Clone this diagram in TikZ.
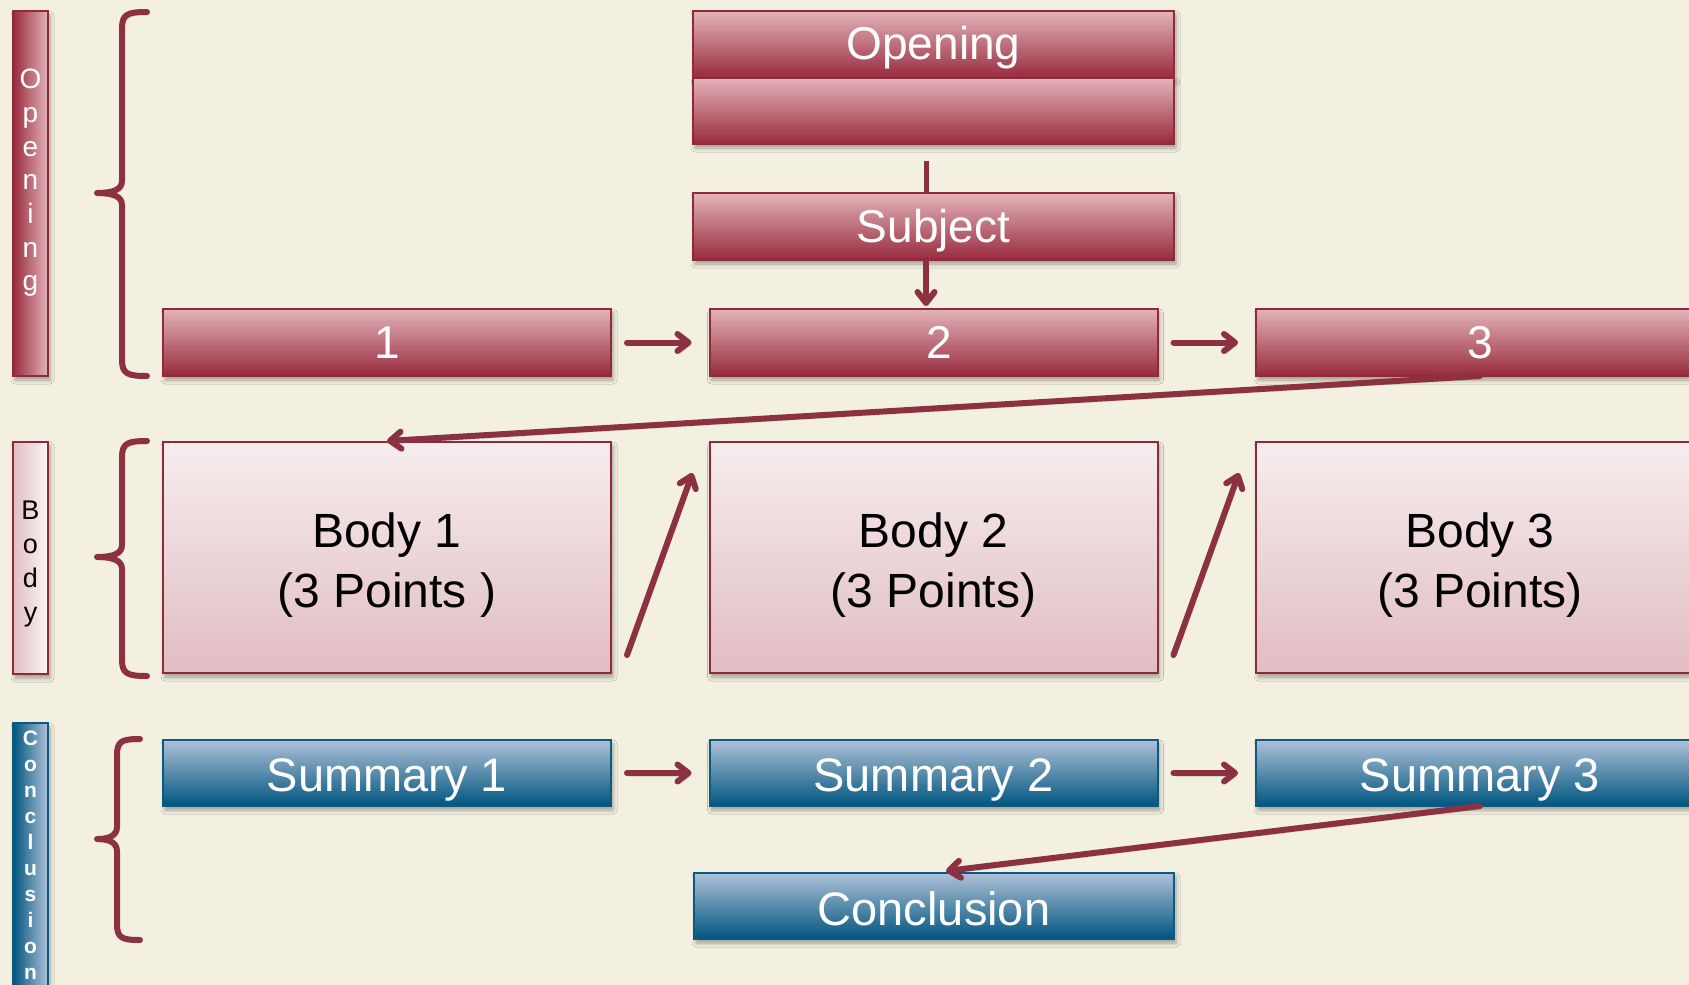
\documentclass[tikz,border=0pt]{standalone}
\usepackage{fontspec}
\setmainfont{Liberation Sans}
\usetikzlibrary{arrows.meta,shadows.blur,calc}
\definecolor{bg}{HTML}{F3F0E2}
\definecolor{redL}{HTML}{E3B3B9}
\definecolor{redD}{HTML}{982A3D}
\definecolor{redB}{HTML}{8E2A3C}
\definecolor{arrc}{HTML}{8B3142}
\definecolor{pinkT}{HTML}{F6EDEE}
\definecolor{pinkB}{HTML}{E1BDC2}
\definecolor{blueT}{HTML}{AEC1D8}
\definecolor{blueD}{HTML}{00557F}
\definecolor{blueB}{HTML}{0B5A80}
\begin{document}
\begin{tikzpicture}[x=1pt,y=-1pt,
  shad/.style={blur shadow={shadow xshift=2pt,shadow yshift=-4pt,shadow blur radius=4pt,shadow opacity=35}},
  basebox/.style={line width=2pt,inner sep=0pt,outer sep=0pt,shad},
  redbox/.style={basebox,draw=redB,top color=redL,bottom color=redD,text=white,font=\fontsize{46}{50}\selectfont},
  bodybox/.style={basebox,draw=redB,top color=pinkT,bottom color=pinkB,minimum width=448pt,minimum height=231pt},
  bodytext/.style={align=center,text=black,font=\fontsize{48}{60}\selectfont},
  bluebox/.style={basebox,draw=blueB,top color=blueT,bottom color=blueD},
  bluetext/.style={text=white,font=\fontsize{47}{50}\selectfont},
  rowbox/.style={minimum width=448pt,minimum height=67pt},
  sumbox/.style={minimum width=448pt,minimum height=66pt},
  vbar/.style={basebox,minimum width=35pt},
  vtext/.style={align=center,inner sep=0pt},
  arr/.style={draw=arrc,line width=6pt,line cap=round,-{Straight Barb[length=11pt,width=17pt,round]},
    preaction={draw=black,opacity=0.12,transform canvas={shift={(2pt,-3pt)}}}},
  conn/.style={draw=arrc,line width=5pt},
  brace/.style={draw=arrc,line width=6pt,line cap=round,line join=round,
    preaction={draw=black,opacity=0.12,transform canvas={shift={(2pt,-3pt)}}}}
]
\fill[bg] (0,0) rectangle (1689,985);
\useasboundingbox (0,0) rectangle (1689,985);
\clip (0,0) rectangle (1689,985);

% side bars
\node[vbar,draw=redB,left color=redD,right color=redL,minimum height=365pt] (barO) at (30.5,193.5) {};
\node[vtext,text=white,font=\fontsize{28}{33.7}\selectfont] (txtO) at (30.5,183) {O\\p\\e\\n\\i\\n\\g};
\node[vbar,draw=redB,left color=pinkB,right color=pinkT!60!white,minimum height=232pt] (barB) at (30.5,558) {};
\node[vtext,text=black,font=\fontsize{27}{34}\selectfont] (txtB) at (30.5,564) {B\\o\\d\\y};
\node[vbar,draw=blueB,left color=blueD,right color=blueT,minimum height=287pt] (barC) at (30.5,866.5) {};
\node[vtext,text=white,font=\fontsize{21}{26}\selectfont\bfseries] (txtC) at (30.5,855) {C\\o\\n\\c\\l\\u\\s\\i\\o\\n};

% braces
\draw[brace] (147,12) .. controls (128,12) and (122,14) .. (122,28) -- (122,181) .. controls (122,190) and (112,193) .. (97,193) .. controls (112,193) and (122,196) .. (122,205) -- (122,360) .. controls (122,374) and (128,376) .. (147,376);
\draw[brace] (147,441) .. controls (128,441) and (122,443) .. (122,457) -- (122,545) .. controls (122,554) and (112,557) .. (97,557) .. controls (112,557) and (122,560) .. (122,569) -- (122,660) .. controls (122,674) and (128,676) .. (147,676);
\draw[brace] (140,739) .. controls (122,739) and (117,741) .. (117,755) -- (117,827) .. controls (117,836) and (108,839) .. (97,839) .. controls (108,839) and (117,842) .. (117,851) -- (117,924) .. controls (117,938) and (122,940) .. (140,940);

% opening stack
\node[redbox,minimum width=481pt,minimum height=67pt,text depth=4pt] (openA) at (933.5,44.5) {Opening};
\node[redbox,minimum width=481pt,minimum height=66pt] (openB) at (933.5,111) {};
\node[redbox,minimum width=481pt,minimum height=67pt,text depth=2pt] (subj) at (933.5,226.5) {Subject};

% row 1
\node[redbox,rowbox] (r1) at (387,342.5) {1};
\node[redbox,rowbox] (r2) at (933.5,342.5) {\hspace*{12pt}2};
\node[redbox,rowbox] (r3) at (1480,342.5) {3};

% body row
\node[bodybox] (b1) at (387,557.5) {};
\node[bodybox] (b2) at (933.5,557.5) {};
\node[bodybox] (b3) at (1480,557.5) {};
\node[bodytext] (t1) at (387,565.5) {Body 1\\(3 Points )};
\node[bodytext] (t2) at (933.5,565.5) {Body 2\\(3 Points)};
\node[bodytext] (t3) at (1480,565.5) {Body 3\\(3 Points)};

% summary row
\node[bluebox,sumbox] (s1) at (387,773) {};
\node[bluebox,sumbox] (s2) at (933.5,773) {};
\node[bluebox,sumbox] (s3) at (1480,773) {};
\node[bluebox,minimum width=480pt,minimum height=66pt] (concl) at (934,906) {};
\node[bluetext] (ts1) at (387,780) {Summary 1};
\node[bluetext] (ts2) at (933.5,780) {Summary 2};
\node[bluetext] (ts3) at (1480,780) {Summary 3};
\node[bluetext] (tc) at (934,909) {Conclusion};

% connectors
\coordinate (sl) at (926,161);
\draw[conn] (sl) -- (sl |- subj.north);
\draw[arr] (subj.south -| sl) -- ($(r2.north -| sl)+(0,-3)$);
\draw[arr] ($(r1.east)+(16,0)$) -- ($(r2.west)+(-18,0)$);
\draw[arr] ($(r2.east)+(16,0)$) -- ($(r3.west)+(-18,0)$);
\draw[arr] (r3.south) -- ($(b1.north)+(0,-1)$);
\draw[arr] ($(b1.south east)+(16,-18)$) -- ($(b2.north west)+(-17,31)$);
\draw[arr] ($(b2.south east)+(16,-18)$) -- ($(b3.north west)+(-17,31)$);
\draw[arr] ($(s1.east)+(16,0)$) -- ($(s2.west)+(-18,0)$);
\draw[arr] ($(s2.east)+(16,0)$) -- ($(s3.west)+(-18,0)$);
\draw[arr] (s3.south) -- ($(concl.north)+(12,-2)$);
\end{tikzpicture}
\end{document}
